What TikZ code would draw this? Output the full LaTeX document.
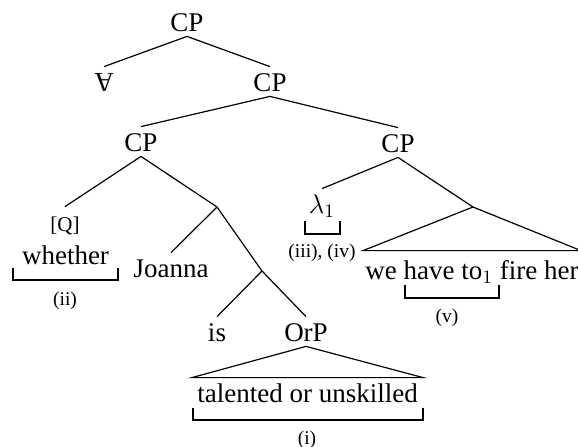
\documentclass[tikz,border=0pt]{standalone}
\usepackage{fix-cm}
\usepackage{fontspec}
\setmainfont{Liberation Serif}
\usepackage{graphicx}
\begin{document}
\begin{tikzpicture}[x=0.5pt,y=-0.5pt,
  lbl/.style={inner sep=0pt, anchor=base, font=\fontsize{13.5}{16}\selectfont, text height=12pt, text depth=2.5pt},
  sml/.style={inner sep=0pt, font=\fontsize{9.75}{11}\selectfont},
  edge/.style={line width=0.6pt},
  brk/.style={line width=0.6pt}]
\useasboundingbox (0,0) rectangle (578,446);
% nodes
\node[lbl] (cp1) at (187,31) {CP};
\node[lbl] (fa) at (104,91) {\rotatebox[origin=c]{180}{A}};
\node[lbl] (cp2) at (270,91) {CP};
\node[lbl] (cp3) at (141,151) {CP};
\node[lbl] (cp4) at (398,152) {CP};
\node[lbl, font=\fontsize{10.5}{12}\selectfont] (q) at (65,231) {[Q]};
\node[lbl] (wh) at (65.5,264) {whether};
\node[sml] (lii) at (65,300.5) {(ii)};
\node[lbl] (jo) at (171,277) {Joanna};
\coordinate (A) at (217,207);
\coordinate (B) at (262,271);
\node[lbl] (is) at (217,341) {is};
\node[lbl] (orp) at (306,341) {OrP};
\node[lbl, inner xsep=2.5pt] (tal) at (307.5,402) {talented or unskilled};
\node[sml] (li) at (307,439.5) {(i)};
\node[lbl] (lam) at (322,213) {$\lambda_1$};
\node[sml] (l34) at (322,252.5) {(iii), (iv)};
\coordinate (C) at (473,207);
\node[lbl, text height=14pt, inner xsep=1pt] (we) at (472,279) {we have to$_1$ fire her};
\node[sml] (lv) at (447,318) {(v)};
% edges
\draw[edge] (cp1.south) -- (fa.north);
\draw[edge] (cp1.south) -- (cp2.north);
\draw[edge] (cp2.south) -- (cp3.north);
\draw[edge] (cp2.south) -- (cp4.north);
\draw[edge] (cp3.south) -- (q.north);
\draw[edge] (cp3.south) -- (A);
\draw[edge] (A) -- (jo.north);
\draw[edge] (A) -- (B);
\draw[edge] (B) -- (is.north);
\draw[edge] (B) -- (orp.north);
\draw[edge] (orp.south) -- (tal.north west) -- (tal.north east) -- cycle;
\draw[edge] (cp4.south) -- (lam.north);
\draw[edge] (cp4.south) -- (C);
\draw[edge] (C) -- (we.north west) -- (we.north east) -- cycle;
% brackets
\draw[brk] (13,268) -- (13,280) -- (118,280) -- (118,268);
\draw[brk] (193,408) -- (193,420) -- (423,420) -- (423,408);
\draw[brk] (305,221) -- (305,234) -- (340,234) -- (340,221);
\draw[brk] (405,285) -- (405,298) -- (499,298) -- (499,285);
\end{tikzpicture}
\end{document}
